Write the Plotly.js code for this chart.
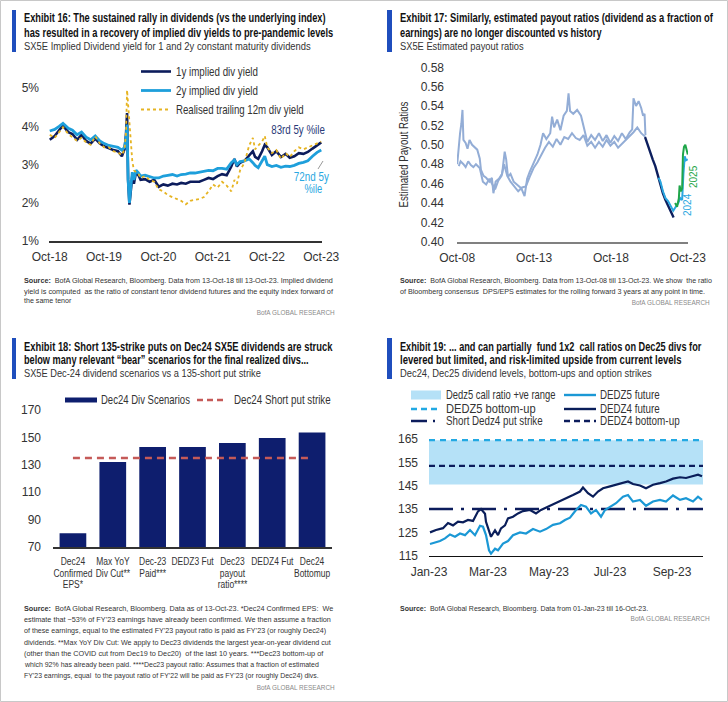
<!DOCTYPE html>
<html><head><meta charset="utf-8">
<script src="https://cdn.plot.ly/plotly-3.0.1.min.js"></script>
<style>html,body{margin:0;padding:0;background:#fff}#chart{width:728px;height:702px}</style>
</head><body><div id="chart"></div>
<script>
// ---------------- Exhibit 16 data ----------------
const EX16_DATES = ['2018-10-13','2018-11-15','2018-12-15','2019-01-10','2019-02-15','2019-03-15','2019-04-15','2019-05-15','2019-06-15','2019-07-15','2019-08-15','2019-09-15','2019-10-15','2019-11-15','2019-12-15','2020-01-15','2020-02-10','2020-02-28','2020-03-09','2020-03-16','2020-03-23','2020-04-01','2020-04-10','2020-04-20','2020-05-01','2020-05-15','2020-06-01','2020-06-15','2020-07-15','2020-08-15','2020-09-15','2020-10-15','2020-11-15','2020-12-15','2021-01-15','2021-02-15','2021-03-15','2021-04-15','2021-05-15','2021-06-15','2021-07-15','2021-08-15','2021-09-15','2021-10-15','2021-11-15','2021-12-15','2022-01-15','2022-02-15','2022-03-08','2022-03-25','2022-04-15','2022-05-15','2022-06-15','2022-07-10','2022-07-25','2022-08-15','2022-09-10','2022-09-28','2022-10-15','2022-11-15','2022-12-15','2023-01-15','2023-02-15','2023-03-15','2023-04-15','2023-05-15','2023-06-15','2023-07-15','2023-08-15','2023-09-15','2023-10-13'];
const EX16_1Y = [3.65,3.75,3.90,4.02,3.85,3.80,3.65,3.78,3.62,3.55,3.68,3.55,3.48,3.42,3.38,3.35,3.22,3.40,3.80,4.35,2.60,1.95,2.30,2.70,2.50,2.80,2.72,2.60,2.62,2.55,2.60,2.42,2.48,2.45,2.50,2.48,2.52,2.50,2.55,2.56,2.55,2.60,2.65,2.62,2.70,2.75,2.72,2.95,3.15,2.95,3.05,3.10,3.25,3.35,3.20,3.15,3.35,3.52,3.45,3.25,3.35,3.20,3.28,3.18,3.22,3.30,3.28,3.33,3.42,3.50,3.58];
const EX16_2Y = [3.88,3.92,4.00,4.08,3.95,3.90,3.78,3.85,3.72,3.65,3.75,3.62,3.55,3.50,3.48,3.45,3.38,3.45,3.70,4.05,2.60,2.00,2.40,2.80,2.60,2.85,2.78,2.70,2.72,2.68,2.65,2.65,2.70,2.72,2.74,2.70,2.74,2.75,2.78,2.78,2.80,2.82,2.85,2.84,2.90,2.90,2.88,3.05,3.12,3.00,3.08,3.10,3.15,3.05,2.98,2.92,3.08,3.22,3.00,2.95,2.98,2.93,2.96,2.95,2.98,3.03,3.06,3.10,3.22,3.32,3.38];
const EX16_REAL = [3.78,3.70,3.85,3.98,3.80,3.72,3.62,3.70,3.58,3.52,3.74,3.55,3.45,3.45,3.35,3.32,3.25,3.40,3.85,4.95,4.60,4.20,3.60,3.10,2.85,2.80,2.75,2.65,2.70,2.60,2.55,2.35,2.30,2.20,2.15,2.10,2.05,1.96,2.05,2.08,2.10,2.15,2.30,2.48,2.40,2.55,2.45,2.30,2.60,2.50,2.85,3.05,3.50,3.70,3.40,3.50,3.60,3.75,3.45,3.30,3.38,3.15,3.30,3.20,3.35,3.45,3.40,3.45,3.50,3.55,3.60];
const EX16_TICKS = ['2018-10-13','2019-10-13','2020-10-13','2021-10-13','2022-10-13','2023-10-13'];
const EX16_TICKTEXT = ['Oct-18','Oct-19','Oct-20','Oct-21','Oct-22','Oct-23'];

// ---------------- Exhibit 17 data ----------------
const EX17_A_DATES = ['2008-10-13','2008-11-20','2008-12-20','2009-01-20','2009-02-15','2009-03-10','2009-05-01','2009-06-15','2009-08-01','2009-10-01','2009-12-01','2010-02-01','2010-04-01','2010-05-01','2010-07-01','2010-09-01','2010-11-15','2011-01-15','2011-02-20','2011-04-15','2011-07-01','2011-09-15','2011-11-15','2011-12-20','2012-02-01','2012-04-01','2012-06-15','2012-09-15','2012-12-15','2013-03-01','2013-05-01','2013-07-01','2013-10-01','2014-01-01','2014-03-15','2014-05-15','2014-08-01','2014-11-01','2014-12-15','2015-02-01','2015-04-15','2015-07-01','2015-09-15','2015-12-01','2016-01-10','2016-02-15','2016-05-01','2016-08-01','2016-11-01','2017-01-15','2017-04-01','2017-07-01','2017-10-01','2018-01-01','2018-04-01','2018-07-01','2018-10-01','2019-01-01','2019-04-01','2019-07-01','2019-10-01','2020-01-01','2020-03-01','2020-04-01','2020-06-01','2020-08-01','2020-10-01','2020-11-15','2020-12-20','2021-01-10'];
const EX17_A = [0.480,0.500,0.512,0.522,0.536,0.505,0.502,0.496,0.505,0.500,0.497,0.495,0.486,0.474,0.468,0.466,0.462,0.466,0.450,0.462,0.465,0.470,0.493,0.485,0.467,0.470,0.462,0.458,0.455,0.447,0.465,0.472,0.482,0.490,0.500,0.512,0.506,0.512,0.529,0.518,0.526,0.515,0.530,0.535,0.553,0.535,0.532,0.536,0.530,0.518,0.503,0.510,0.505,0.512,0.504,0.510,0.502,0.509,0.504,0.512,0.506,0.513,0.516,0.548,0.540,0.545,0.538,0.530,0.532,0.510];
const EX17_B_DATES = ['2008-11-20','2009-01-01','2009-03-10','2009-05-01','2009-07-01','2009-09-01','2009-11-01','2010-01-01','2010-04-01','2010-06-15','2010-09-01','2010-11-15','2011-01-15','2011-04-01','2011-06-15','2011-09-01','2011-11-01','2012-01-15','2012-04-01','2012-07-01','2012-10-01','2013-01-01','2013-04-01','2013-07-01','2013-10-01','2014-01-01','2014-04-01','2014-07-01','2014-10-01','2015-01-01','2015-04-01','2015-07-01','2015-10-01','2016-01-01','2016-04-01','2016-07-01','2016-10-01','2017-01-01','2017-04-01','2017-07-01','2017-10-01','2018-01-01','2018-04-01','2018-07-01','2018-10-01','2019-01-01','2019-04-01','2019-07-01','2019-10-01','2020-01-01','2020-04-01','2020-07-01','2020-10-01','2021-01-10'];
const EX17_B = [0.478,0.483,0.480,0.477,0.483,0.479,0.477,0.480,0.476,0.462,0.459,0.465,0.460,0.454,0.463,0.468,0.480,0.468,0.462,0.457,0.452,0.456,0.457,0.467,0.476,0.482,0.490,0.497,0.503,0.498,0.506,0.500,0.508,0.506,0.512,0.507,0.505,0.510,0.499,0.503,0.497,0.503,0.498,0.505,0.499,0.503,0.497,0.501,0.505,0.508,0.513,0.518,0.512,0.508];
const EX17_2023_DATES = ['2021-01-01','2021-03-01','2021-05-01','2021-07-01','2021-09-01','2021-11-01','2022-01-01','2022-03-01','2022-05-01','2022-07-01','2022-09-01','2022-10-15','2022-11-10'];
const EX17_2023 = [0.508,0.500,0.493,0.485,0.478,0.468,0.458,0.450,0.443,0.437,0.432,0.427,0.425];
const EX17_2024_DATES = ['2021-11-15','2022-01-01','2022-03-01','2022-05-01','2022-07-01','2022-09-01','2022-11-01','2023-01-01','2023-03-01','2023-04-15','2023-06-01','2023-07-01','2023-08-01','2023-09-01','2023-10-13'];
const EX17_2024 = [0.466,0.462,0.452,0.445,0.442,0.437,0.432,0.436,0.440,0.445,0.443,0.470,0.488,0.484,0.485];
const EX17_2025_DATES = ['2022-12-15','2023-02-01','2023-03-15','2023-04-01','2023-05-01','2023-06-01','2023-06-20','2023-07-15','2023-08-15','2023-09-15','2023-10-13'];
const EX17_2025 = [0.440,0.436,0.445,0.458,0.452,0.455,0.490,0.498,0.500,0.495,0.490];
const EX17_TICKS = ['2008-10-13','2013-10-13','2018-10-13','2023-10-13'];
const EX17_TICKTEXT = ['Oct-08','Oct-13','Oct-18','Oct-23'];

// ---------------- Exhibit 18 data ----------------
const EX18_CATS = ['Dec24<br>Confirmed<br>EPS*','Max YoY<br>Div Cut**','Dec-23<br>Paid***','DEDZ3 Fut','Dec23<br>payout<br>ratio****','DEDZ4 Fut','Dec24<br>Bottomup'];
const EX18_VALUES = [80, 132, 143, 143, 146, 149.5, 153.5];
const EX18_STRIKE = [135, 135, 135, 135, 135, 135, 135];

// ---------------- Exhibit 19 data ----------------
const EX19_Z4_DATES = ['2023-01-02','2023-01-08','2023-01-15','2023-01-20','2023-01-25','2023-01-30','2023-02-04','2023-02-09','2023-02-14','2023-02-19','2023-02-22','2023-02-26','2023-02-27','2023-03-03','2023-03-04','2023-03-08','2023-03-11','2023-03-14','2023-03-18','2023-03-21','2023-03-26','2023-03-31','2023-04-05','2023-04-12','2023-04-18','2023-04-23','2023-04-30','2023-05-05','2023-05-12','2023-05-18','2023-05-25','2023-06-01','2023-06-04','2023-06-09','2023-06-14','2023-06-19','2023-06-24','2023-07-01','2023-07-07','2023-07-14','2023-07-19','2023-07-24','2023-07-31','2023-08-06','2023-08-13','2023-08-20','2023-08-26','2023-09-02','2023-09-09','2023-09-15','2023-09-22','2023-09-27','2023-10-01'];
const EX19_Z4 = [125.0,126.0,126.8,129.0,128.0,129.6,129.3,130.3,129.9,134.0,135.0,133.0,129.5,123.8,123.1,125.9,123.8,126.7,128.0,131.0,131.7,133.1,134.1,134.6,133.1,134.6,136.0,136.7,138.2,139.6,141.0,142.5,144.2,141.8,140.3,142.5,143.9,144.7,145.4,146.1,146.8,145.7,145.1,143.9,145.4,146.1,146.8,148.0,148.6,148.3,149.0,149.7,149.0];
const EX19_Z5_DATES = ['2023-01-02','2023-01-07','2023-01-12','2023-01-17','2023-01-22','2023-01-27','2023-02-01','2023-02-06','2023-02-11','2023-02-16','2023-02-21','2023-02-24','2023-02-27','2023-03-02','2023-03-04','2023-03-08','2023-03-11','2023-03-16','2023-03-21','2023-03-26','2023-04-02','2023-04-08','2023-04-15','2023-04-22','2023-04-28','2023-05-05','2023-05-12','2023-05-17','2023-05-22','2023-05-28','2023-06-02','2023-06-07','2023-06-12','2023-06-17','2023-06-22','2023-06-26','2023-07-01','2023-07-07','2023-07-14','2023-07-19','2023-07-24','2023-07-31','2023-08-06','2023-08-13','2023-08-20','2023-08-26','2023-09-02','2023-09-09','2023-09-15','2023-09-22','2023-09-27','2023-10-01'];
const EX19_Z5 = [120.0,120.7,121.3,122.4,124.1,123.1,124.5,123.8,126.0,123.8,127.8,127.4,123.8,117.3,115.9,118.0,117.3,120.2,121.3,123.8,125.0,124.5,126.4,125.3,126.4,128.2,128.9,130.3,131.3,134.6,136.7,136.0,133.1,134.6,131.7,134.6,136.0,137.5,140.3,141.0,138.2,138.9,136.4,138.2,138.9,138.2,140.8,138.9,139.6,138.2,140.3,138.9];
const EX19_SPAN = ['2023-01-01','2023-10-02'];
const EX19_BAND_X = ['2023-01-01','2023-10-02','2023-10-02','2023-01-01','2023-01-01'];
const EX19_BAND_Y = [145.5, 145.5, 164.5, 164.5, 145.5];
const EX19_Z5_BOTTOMUP = [164.5, 164.5];
const EX19_Z4_BOTTOMUP = [153.5, 153.5];
const EX19_PUT_STRIKE = [135, 135];
const EX19_TICKS = ['2023-01-01','2023-03-01','2023-05-01','2023-07-01','2023-09-01'];
const EX19_TICKTEXT = ['Jan-23','Mar-23','May-23','Jul-23','Sep-23'];

// ---------------- styling / layout ----------------
const W = 728, H = 702;
const FONT = '"Liberation Sans Narrow", "Arial Narrow", "Liberation Sans", Arial, sans-serif';
const fx = x => x / W;
const fy = y => 1 - y / H;
const NAVY = '#0C1C5C', LBLUE = '#1E9FDB', GOLD = '#E6B422';

const annWidths = [];
function txt(text, x, y, o) {
  o = o || {};
  annWidths.push(o.w || 0);
  return {xref:'paper', yref:'paper', x:fx(x), y:fy(y), xanchor:o.anchor||'left', yanchor:'middle',
    align:o.anchor==='right'?'right':(o.anchor==='center'?'center':'left'),
    text:text, showarrow:false, borderpad:0, textangle:o.angle||0,
    font:{family:FONT, size:o.size||11, color:o.color||'#111', weight:o.bold?'bold':'normal'}};
}
function hline(x0, x1, y, color, width, dash) {
  return {type:'line', xref:'paper', yref:'paper', x0:fx(x0), x1:fx(x1), y0:fy(y), y1:fy(y),
    line:{color:color, width:width, dash:dash||'solid'}};
}
function rect(x0, x1, y0, y1, color) {
  return {type:'rect', xref:'paper', yref:'paper', x0:fx(x0), x1:fx(x1), y0:fy(y1), y1:fy(y0),
    fillcolor:color, line:{width:0}};
}

const tickfont = {family:FONT, size:12, color:'#333'};
const baseAxis = {showgrid:false, zeroline:false, fixedrange:true, ticks:'', tickfont:tickfont};

const traces = [
  // Exhibit 16
  {x:EX16_DATES, y:EX16_1Y, xaxis:'x', yaxis:'y', type:'scatter', mode:'lines', name:'1y implied div yield',
   line:{color:NAVY, width:2.6}, legend:'legend', legendgroup:'a'},
  {x:EX16_DATES, y:EX16_2Y, xaxis:'x', yaxis:'y', type:'scatter', mode:'lines', name:'2y implied div yield',
   line:{color:LBLUE, width:2.8}, legend:'legend', legendgroup:'b'},
  {x:EX16_DATES, y:EX16_REAL, xaxis:'x', yaxis:'y', type:'scatter', mode:'lines', name:'Realised trailing 12m div yield',
   line:{color:GOLD, width:1.8, dash:'dot'}, legend:'legend', legendgroup:'c'},
  // Exhibit 17
  {x:EX17_A_DATES, y:EX17_A, xaxis:'x2', yaxis:'y2', type:'scatter', mode:'lines', line:{color:'#93ADD6', width:2}, showlegend:false},
  {x:EX17_B_DATES, y:EX17_B, xaxis:'x2', yaxis:'y2', type:'scatter', mode:'lines', line:{color:'#93ADD6', width:2}, showlegend:false},
  {x:EX17_2023_DATES, y:EX17_2023, xaxis:'x2', yaxis:'y2', type:'scatter', mode:'lines', line:{color:'#0D1F5E', width:2.4}, showlegend:false},
  {x:EX17_2024_DATES, y:EX17_2024, xaxis:'x2', yaxis:'y2', type:'scatter', mode:'lines', line:{color:'#2AA7E1', width:2}, showlegend:false},
  {x:EX17_2025_DATES, y:EX17_2025, xaxis:'x2', yaxis:'y2', type:'scatter', mode:'lines', line:{color:'#1FA64A', width:2}, showlegend:false},
  // Exhibit 18
  {x:EX18_CATS, y:EX18_VALUES, xaxis:'x3', yaxis:'y3', type:'bar', name:'Dec24 Div Scenarios',
   marker:{color:'#0E1E6E'}, showlegend:false},
  {x:EX18_CATS, y:EX18_STRIKE, xaxis:'x3', yaxis:'y3', type:'scatter', mode:'lines', name:'Dec24 Short put strike',
   line:{color:'#C55A58', width:2.6, dash:'7px,5px'}, showlegend:false},
  // Exhibit 19
  {x:EX19_BAND_X, y:EX19_BAND_Y, xaxis:'x4', yaxis:'y4', type:'scatter', mode:'lines', fill:'toself',
   fillcolor:'#B5E1F7', line:{width:0}, name:'Dedz5 call ratio +ve range', showlegend:false},
  {x:EX19_SPAN, y:EX19_Z5_BOTTOMUP, xaxis:'x4', yaxis:'y4', type:'scatter', mode:'lines', name:'DEDZ5 bottom-up',
   line:{color:'#22A9E3', width:2.2, dash:'6px,5px'}, showlegend:false},
  {x:EX19_SPAN, y:EX19_Z4_BOTTOMUP, xaxis:'x4', yaxis:'y4', type:'scatter', mode:'lines', name:'DEDZ4 bottom-up',
   line:{color:NAVY, width:2.4, dash:'6px,4px'}, showlegend:false},
  {x:EX19_SPAN, y:EX19_PUT_STRIKE, xaxis:'x4', yaxis:'y4', type:'scatter', mode:'lines', name:'Short Dedz4 put strike',
   line:{color:NAVY, width:2.4, dash:'24px,8px,3px,8px'}, showlegend:false},
  {x:EX19_Z5_DATES, y:EX19_Z5, xaxis:'x4', yaxis:'y4', type:'scatter', mode:'lines', name:'DEDZ5 future',
   line:{color:'#1B98D5', width:2.2}, showlegend:false},
  {x:EX19_Z4_DATES, y:EX19_Z4, xaxis:'x4', yaxis:'y4', type:'scatter', mode:'lines', name:'DEDZ4 future',
   line:{color:'#0A1E5A', width:2.2}, showlegend:false}
];

const shapes = [
  {type:'rect', xref:'paper', yref:'paper', x0:0.0007, x1:0.9993, y0:0.0007, y1:0.9993, line:{color:'#C8C8C8', width:1}},
  rect(12, 16, 10, 52, '#1F4EBD'),
  rect(387, 392, 10, 52, '#1F4EBD'),
  rect(12, 16, 338, 379, '#1F4EBD'),
  rect(387, 392, 338, 379, '#1F4EBD'),
  {type:'line', xref:'paper', yref:'paper', x0:fx(318), y0:fy(169), x1:fx(323), y1:fy(161), line:{color:'#999', width:1}},
  // Exhibit 18 legend symbols
  rect(65, 97, 397.5, 402.5, '#0E1E6E'),
  hline(197, 227, 400, '#C55A58', 2.6, '6px,4px'),
  // Exhibit 19 legend symbols
  rect(411, 441, 390.5, 399.5, '#B5E1F7'),
  hline(564, 596, 395, '#1B98D5', 2.4),
  hline(411, 441, 409, '#22A9E3', 2.4, '6px,4px'),
  hline(564, 596, 409, '#0A1E5A', 2.4),
  hline(411, 441, 421, NAVY, 2.4, '16px,6px,2px,20px'),
  hline(564, 596, 421, NAVY, 2.4, '6px,4px')
];

const GREY = '#8a8a8a', SRC = '#333';
const annotations = [
  // Exhibit 16
  txt('Exhibit 16: The sustained rally in dividends (vs the underlying index)', 23, 18, {size:12, bold:true, w:302}),
  txt('has resulted in a recovery of implied div yields to pre-pandemic levels', 23, 33, {size:12, bold:true, w:310}),
  txt('SX5E Implied Dividend yield for 1 and 2y constant maturity dividends', 23, 46, {size:11.5, color:'#333', w:287}),
  txt('83rd 5y %ile', 298, 130, {anchor:'center', size:12, color:'#2A3A78', w:54}),
  txt('72nd 5y', 311, 177, {anchor:'center', size:12, color:'#2AA7E1', w:35}),
  txt('%ile', 313, 189, {anchor:'center', size:12, color:'#2AA7E1', w:18}),
  txt('<b>Source:</b>  BofA Global Research, Bloomberg. Data from 13-Oct-18 till 13-Oct-23. Implied dividend', 23, 280, {size:7.2, color:SRC, w:309}),
  txt('yield is computed  as the ratio of constant tenor dividend futures and the equity index forward of', 23, 291, {size:7.2, color:SRC, w:309}),
  txt('the same tenor', 23, 301, {size:7.2, color:SRC, w:48}),
  txt('BofA GLOBAL RESEARCH', 336, 312, {anchor:'right', size:7.2, color:GREY, w:78}),
  // Exhibit 17
  txt('Exhibit 17: Similarly, estimated payout ratios (dividend as a fraction of', 399, 18, {size:12, bold:true, w:314}),
  txt('earnings) are no longer discounted vs history', 399, 33, {size:12, bold:true, w:202}),
  txt('SX5E Estimated payout ratios', 399, 46, {size:11.5, color:'#333', w:124}),
  txt('2024', 687, 205, {anchor:'center', size:10, color:'#2AA7E1', angle:-90}),
  txt('2025', 693, 177, {anchor:'center', size:10, color:'#1FA64A', angle:-90}),
  txt('<b>Source:</b>  BofA Global Research, Bloomberg. Data from 13-Oct-08 till 13-Oct-23. We show  the ratio', 399, 280, {size:7.2, color:SRC, w:312}),
  txt('of Bloomberg consensus  DPS/EPS estimates for the rolling forward 3 years at any point in time.', 399, 291, {size:7.2, color:SRC, w:305}),
  txt('BofA GLOBAL RESEARCH', 711, 302, {anchor:'right', size:7.2, color:GREY, w:78}),
  // Exhibit 18
  txt('Exhibit 18: Short 135-strike puts on Dec24 SX5E dividends are struck', 23, 347, {size:12, bold:true, w:309}),
  txt('below many relevant \u201cbear\u201d scenarios for the final realized divs...', 23, 360, {size:12, bold:true, w:285}),
  txt('SX5E Dec-24 dividend scenarios vs a 135-short put strike', 23, 373, {size:11.5, color:'#333', w:237}),
  txt('Dec24 Div Scenarios', 100, 400, {size:12, color:'#333', w:89}),
  txt('Dec24 Short put strike', 233, 400, {size:12, color:'#333', w:97}),
  txt('<b>Source:</b>  BofA Global Research, Bloomberg. Data as of 13-Oct-23. *Dec24 Confirmed EPS:  We', 23, 608, {size:7.2, color:SRC, w:309}),
  txt('estimate that ~53% of FY\u201923 earnings have already been confirmed. We then assume a fraction', 23, 619, {size:7.2, color:SRC, w:307}),
  txt('of these earnings, equal to the estimated FY\u201923 payout ratio is paid as FY\u201923 (or roughly Dec24)', 23, 630, {size:7.2, color:SRC, w:302}),
  txt('dividends. **Max YoY Div Cut: We apply to Dec23 dividends the largest year-on-year dividend cut', 23, 642, {size:7.2, color:SRC, w:307}),
  txt('(other than the COVID cut from Dec19 to Dec20)  of the last 10 years. ***Dec23 bottom-up of', 23, 653, {size:7.2, color:SRC, w:299}),
  txt('which 92% has already been paid. ****Dec23 payout ratio: Assumes that a fraction of estimated', 23, 664, {size:7.2, color:SRC, w:295}),
  txt('FY\u201923 earnings, equal  to the payout ratio of FY\u201922 will be paid as FY\u201923 (or roughly Dec24) divs.', 23, 675, {size:7.2, color:SRC, w:295}),
  txt('BofA GLOBAL RESEARCH', 336, 687, {anchor:'right', size:7.2, color:GREY, w:78}),
  // Exhibit 19
  txt('Exhibit 19: ... and can partially  fund 1x2  call ratios on Dec25 divs for', 399, 347, {size:12, bold:true, w:302}),
  txt('levered but limited, and risk-limited upside from current levels', 399, 360, {size:12, bold:true, w:282}),
  txt('Dec24, Dec25 dividend levels, bottom-ups and option strikes', 399, 373, {size:11.5, color:'#333', w:252}),
  txt('Dedz5 call ratio +ve range', 445, 395, {size:12, color:'#333', w:110}),
  txt('DEDZ5 future', 599, 395, {size:12, color:'#333', w:60}),
  txt('DEDZ5 bottom-up', 445, 409, {size:12, color:'#333', w:90}),
  txt('DEDZ4 future', 599, 409, {size:12, color:'#333', w:60}),
  txt('Short Dedz4 put strike', 445, 421, {size:12, color:'#333', w:97}),
  txt('DEDZ4 bottom-up', 599, 421, {size:12, color:'#333', w:80}),
  txt('<b>Source:</b>  BofA Global Research, Bloomberg. Data from 01-Jan-23 till 16-Oct-23.', 399, 608, {size:7.2, color:SRC, w:248}),
  txt('BofA GLOBAL RESEARCH', 711, 618, {anchor:'right', size:7.2, color:GREY, w:79})
];

const layout = {
  width: W, height: H, margin:{l:0, r:0, t:0, b:0}, paper_bgcolor:'#fff', plot_bgcolor:'rgba(0,0,0,0)',
  font:{family:FONT, color:'#333'}, bargap:0.33,
  xaxis: Object.assign({}, baseAxis, {domain:[fx(49), fx(322)], anchor:'y', type:'date',
    range:['2018-10-08','2023-10-18'], tickvals:EX16_TICKS, ticktext:EX16_TICKTEXT,
    showline:true, linecolor:'#333', linewidth:1.5, ticklabelstandoff:4}),
  yaxis: Object.assign({}, baseAxis, {domain:[fy(241), fy(88.2)], anchor:'x', range:[1,5], dtick:1,
    ticksuffix:'%', showline:false, ticklabelstandoff:9}),
  xaxis2: Object.assign({}, baseAxis, {domain:[fx(457), fx(688)], anchor:'y2', type:'date',
    range:['2008-10-08','2023-10-18'], tickvals:EX17_TICKS, ticktext:EX17_TICKTEXT,
    showline:true, linecolor:'#808080', linewidth:2, ticklabelstandoff:4}),
  yaxis2: Object.assign({}, baseAxis, {domain:[fy(241.7), fy(67.3)], anchor:'x2', range:[0.40,0.58], dtick:0.02,
    tickformat:'.2f', showline:false, ticklabelstandoff:12,
    title:{text:'Estimated Payout Ratios', font:{family:FONT, size:12, color:'#333'}, standoff:9}}),
  xaxis3: Object.assign({}, baseAxis, {domain:[fx(53), fx(332)], anchor:'y3', type:'category',
    showline:true, linecolor:'#333', linewidth:1.5, ticklabelstandoff:3, tickangle:0,
    tickfont:{family:FONT, size:11.5, color:'#333'}}),
  yaxis3: Object.assign({}, baseAxis, {domain:[fy(547), fy(410)], anchor:'x3', range:[70,170], dtick:20, tick0:70,
    showline:false, ticklabelstandoff:11}),
  xaxis4: Object.assign({}, baseAxis, {domain:[fx(429), fx(703)], anchor:'y4', type:'date',
    range:EX19_SPAN, tickvals:EX19_TICKS, ticktext:EX19_TICKTEXT,
    showline:true, linecolor:'#111', linewidth:1.5, ticklabelstandoff:4}),
  yaxis4: Object.assign({}, baseAxis, {domain:[fy(555.7), fy(439)], anchor:'x4', range:[115,165], dtick:10, tick0:115,
    showline:false, ticklabelstandoff:10}),
  legend: {x:fx(136), y:fy(57), xanchor:'left', yanchor:'top', bgcolor:'rgba(0,0,0,0)',
    font:{family:FONT, size:12, color:'#333'}, tracegroupgap:0, itemwidth:30},
  shapes: shapes,
  annotations: annotations
};

// horizontal condensing of text (the reference uses a condensed typeface)
function condense(el, factor, anchor) {
  const bb = el.getBBox();
  if (!bb.width) return;
  const cx = anchor === 'left' ? bb.x : anchor === 'right' ? bb.x + bb.width : bb.x + bb.width / 2;
  const t = el.getAttribute('transform') || '';
  el.setAttribute('transform', t + ' translate(' + cx + ',0) scale(' + factor + ',1) translate(' + (-cx) + ',0)');
}

Plotly.newPlot('chart', traces, layout, {displayModeBar:false, staticPlot:true}).then(gd => {
  gd.querySelectorAll('g.annotation').forEach(g => {
    const i = +g.getAttribute('data-index');
    const w = annWidths[i];
    if (!w) return;
    const t = g.querySelector('text.annotation-text');
    const bb = t.getBBox();
    condense(t, w / bb.width, annotations[i].xanchor);
  });
  const legendTargets = [82, 82, 128];
  gd.querySelectorAll('.legendtext').forEach((t, i) => {
    const bb = t.getBBox();
    if (legendTargets[i]) condense(t, legendTargets[i] / bb.width, 'left');
  });
  const yt = gd.querySelector('.g-y2title text');
  if (yt) { const bb = yt.getBBox(); condense(yt, 106 / bb.width, 'center'); }
  const catTexts = gd.querySelectorAll('.x3tick text');
  if (catTexts.length) {
    catTexts.forEach(t => t.querySelectorAll('tspan.line').forEach((sp, k) => {
      sp.setAttribute('dy', (k * 1.0) + 'em');
    }));
    const f = 39 / catTexts[0].getBBox().width;
    catTexts.forEach(t => condense(t, f, 'center'));
  }
});
</script></body></html>
